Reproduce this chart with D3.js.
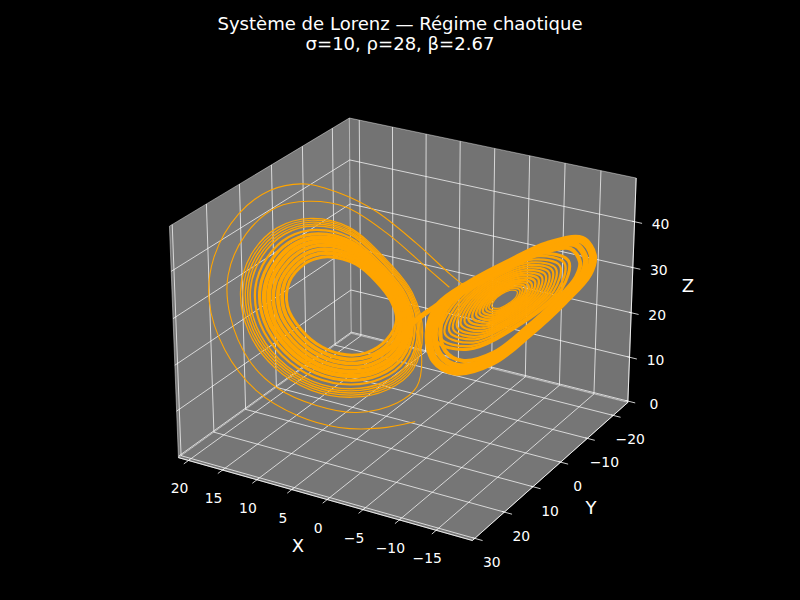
<!DOCTYPE html>
<html><head><meta charset="utf-8">
<script src="https://cdnjs.cloudflare.com/ajax/libs/d3/7.8.5/d3.min.js"></script>
<style>html,body{margin:0;padding:0;background:#000}svg{display:block}</style>
</head><body><svg id="c" width="800" height="600"></svg>
<script>
const titleLines = ["Système de Lorenz — Régime chaotique", "σ=10, ρ=28, β=2.67"];
const xLimits = [-19.85, 21.5], yLimits = [-25.8, 30.8], zLimits = [-0.3, 49.4];
const xTicks = [20, 15, 10, 5, 0, -5, -10, -15];
const yTicks = [-20, -10, 0, 10, 20, 30];
const zTicks = [0, 10, 20, 30, 40];

// Open outer strands
const strand1X = [-1.7,1.05,4.5,8.3,12.5,16.3,19,20,19.3,17.5,14.8,11.5,8.05,3.7,-0.1,-1.7];
const strand1Y = [6,11.3,16.8,21.4,25.1,26.4,25.1,21.3,15,9.1,3.9,-0.4,-3.9,-7.2,-9.6,-10.8];
const strand1Z = [4.3,4.5,6.1,9.5,15.2,23.2,31.9,39.2,45.9,49,49.1,46.3,42.2,35.4,29,26.4];
const strand2X = [1.6,-0.3,-0.8,0.4,3.5,7.15,10.9,14,16.9,18.3,18.1,16.4,14,10.7,6.5,2.1,-0.5];
const strand2Y = [-1.1,0.35,3.2,7.1,13.3,18.3,22.2,24,23.3,20.7,15.5,9.4,4.7,0,-3.8,-6.8,-8.6];
const strand2Z = [22.1,15.3,10.3,8.2,8,10.7,15,20.7,28.8,35.8,42.2,45.9,46,43.9,38.1,30.9,26.6];
const bridgeX = [3.7,2.4,1.4,-0.2,-1.7];
const bridgeY = [6.9,3.2,-1.2,-6.05,-10.8];
const bridgeZ = [16.8,18.4,21.7,24.1,26.4];

// Closed loops of the X>0 wing
const leftLoopWeights = [3,3.8,3.8,3.6,4.5,4.5,3.2,2.2,1.6,1.4,1.4,1.2,1.3];
const leftX = [
[10.63,8.1,5.87,3.97,2.97,3.2,4.5,6.15,8.44,10.68,12.51,13.09,12.37,11.59],
[10.89,8.28,5.85,3.82,2.71,2.89,4.21,5.97,8.39,10.79,12.75,13.46,12.84,12.01],
[11.16,8.45,5.84,3.67,2.45,2.57,3.93,5.79,8.34,10.89,12.98,13.83,13.31,12.42],
[11.42,8.63,5.82,3.52,2.18,2.26,3.64,5.6,8.3,11,13.22,14.2,13.77,12.84],
[11.68,8.8,5.8,3.37,1.92,1.94,3.36,5.42,8.25,11.11,13.45,14.57,14.24,13.26],
[11.95,8.98,5.79,3.22,1.66,1.63,3.07,5.24,8.2,11.22,13.69,14.94,14.71,13.68],
[12.21,9.15,5.77,3.06,1.4,1.31,2.78,5.06,8.15,11.32,13.92,15.31,15.18,14.09],
[12.47,9.33,5.75,2.91,1.14,1,2.5,4.88,8.1,11.43,14.16,15.68,15.65,14.51],
[12.73,9.5,5.73,2.76,0.87,0.68,2.21,4.69,8.06,11.54,14.39,16.05,16.11,14.93],
[12.87,9.59,5.73,2.69,0.74,0.52,2.07,4.6,8.03,11.59,14.51,16.24,16.35,15.13],
[13,9.68,5.72,2.61,0.61,0.37,1.93,4.51,8.01,11.64,14.63,16.42,16.58,15.34],
[13.13,9.76,5.71,2.54,0.48,0.21,1.78,4.42,7.98,11.7,14.74,16.61,16.82,15.55],
[13.26,9.85,5.7,2.46,0.35,0.05,1.64,4.33,7.96,11.75,14.86,16.79,17.05,15.76]];
const leftY = [
[5.94,2.7,1.16,0.52,1.12,3.97,7.66,10.59,13.33,14.86,15.01,13,9.63,7.73],
[5.9,2.53,0.86,0.17,0.86,3.83,7.65,10.81,13.78,15.49,15.71,13.72,10.29,8.04],
[5.86,2.36,0.56,-0.19,0.59,3.68,7.64,11.03,14.23,16.11,16.41,14.45,10.95,8.35],
[5.82,2.19,0.27,-0.54,0.33,3.54,7.63,11.25,14.67,16.74,17.11,15.17,11.61,8.66],
[5.78,2.02,-0.03,-0.9,0.06,3.4,7.62,11.47,15.12,17.37,17.81,15.89,12.27,8.97],
[5.74,1.85,-0.33,-1.25,-0.2,3.26,7.62,11.69,15.57,18,18.51,16.62,12.93,9.28],
[5.7,1.67,-0.63,-1.6,-0.47,3.11,7.61,11.91,16.02,18.62,19.2,17.34,13.59,9.58],
[5.66,1.5,-0.93,-1.96,-0.74,2.97,7.6,12.13,16.47,19.25,19.9,18.06,14.25,9.89],
[5.62,1.33,-1.22,-2.31,-1,2.83,7.59,12.35,16.91,19.88,20.6,18.78,14.91,10.2],
[5.6,1.25,-1.37,-2.49,-1.13,2.75,7.58,12.46,17.14,20.19,20.95,19.15,15.24,10.36],
[5.58,1.16,-1.52,-2.67,-1.27,2.68,7.58,12.57,17.36,20.5,21.3,19.51,15.57,10.51],
[5.56,1.08,-1.67,-2.84,-1.4,2.61,7.57,12.68,17.59,20.82,21.65,19.87,15.9,10.67],
[5.54,0.99,-1.82,-3.02,-1.53,2.54,7.57,12.79,17.81,21.13,22,20.23,16.23,10.82]];
const leftZ = [
[35.77,33.61,29.97,25.98,22.66,19.52,17.95,18.3,20.51,24.17,28.62,32.74,35.34,35.85],
[36.49,34.28,30.32,26.06,22.34,18.91,17.24,17.55,19.8,23.62,28.3,32.73,35.66,36.5],
[37.21,34.95,30.67,26.15,22.03,18.3,16.52,16.8,19.09,23.06,27.98,32.72,35.98,37.15],
[37.93,35.61,31.01,26.23,21.71,17.68,15.81,16.05,18.37,22.51,27.65,32.7,36.3,37.8],
[38.65,36.28,31.36,26.31,21.4,17.07,15.1,15.3,17.66,21.96,27.33,32.69,36.62,38.45],
[39.37,36.95,31.71,26.4,21.08,16.46,14.39,14.55,16.95,21.4,27.01,32.68,36.94,39.1],
[40.09,37.62,32.06,26.48,20.76,15.85,13.67,13.79,16.24,20.85,26.69,32.67,37.26,39.76],
[40.81,38.29,32.41,26.56,20.45,15.24,12.96,13.04,15.53,20.3,26.37,32.66,37.58,40.41],
[41.53,38.95,32.75,26.64,20.13,14.62,12.25,12.29,14.81,19.75,26.04,32.64,37.9,41.06],
[41.89,39.29,32.93,26.69,19.97,14.32,11.89,11.92,14.46,19.47,25.88,32.64,38.06,41.38],
[42.25,39.62,33.1,26.73,19.82,14.01,11.53,11.54,14.1,19.19,25.72,32.63,38.22,41.71],
[42.61,39.96,33.28,26.77,19.66,13.71,11.18,11.17,13.75,18.92,25.56,32.63,38.38,42.03],
[42.97,40.29,33.45,26.81,19.5,13.4,10.82,10.79,13.39,18.64,25.4,32.62,38.54,42.36]];

// Closed loops of the X<0 wing: outer dense band
const bandWeights = [8,6,4];
const bandX = [
[-16.8,-16.7,-14,-10.7,-7.1,-3.6,-1.5,-0.4,-1.2,-4.4,-8.5,-12.6,-15.7],
[-16.1,-16,-13.6,-10.5,-7.2,-4,-2.1,-1,-1.8,-4.7,-8.5,-12.3,-15.1],
[-15.6,-15.5,-13.2,-10.4,-7.3,-4.3,-2.6,-1.6,-2.3,-5,-8.5,-12,-14.6]];
const bandY = [
[-18.6,-14.4,-9,-4.7,-0.7,2.35,0.8,-4,-9.2,-14.9,-17.6,-19.6,-20.2],
[-17.8,-13.9,-9,-5,-1.3,1.5,0.1,-4.4,-9.1,-14.4,-16.9,-18.7,-19.3],
[-17.1,-13.5,-8.9,-5.3,-1.9,0.7,-0.6,-4.7,-9.1,-13.9,-16.2,-17.9,-18.5]];
const bandZ = [
[34.8,40,40.3,37.5,33.8,28.8,21.3,12.5,7.7,8.4,15,22.8,29.8],
[34.2,39,39.2,36.7,33.3,28.7,21.8,13.7,9.2,9.9,16,23.1,29.6],
[33.6,38.1,38.3,35.9,32.8,28.5,22.2,14.7,10.6,11.2,16.8,23.4,29.4]];

// Closed loops of the X<0 wing: inner rings
const rightLoopWeights = [3,2.4,2.2,2.2,2.2,2.2,2.2,2.2,2.4,2.4,2.4,2.4,2.4,2.2,1.8,1.3];
const rightX = [
[-14.8,-12.95,-8.5,-4.05,-1.57,-3.38,-8.5,-12.95],
[-14.4,-12.67,-8.5,-4.33,-2.01,-3.7,-8.5,-12.67],
[-13.95,-12.35,-8.5,-4.65,-2.5,-4.07,-8.5,-12.35],
[-13.55,-12.07,-8.5,-4.93,-2.95,-4.39,-8.5,-12.07],
[-13.2,-11.82,-8.5,-5.18,-3.33,-4.68,-8.5,-11.82],
[-12.85,-11.58,-8.5,-5.42,-3.72,-4.96,-8.5,-11.58],
[-12.5,-11.33,-8.5,-5.67,-4.1,-5.25,-8.5,-11.33],
[-12.15,-11.08,-8.5,-5.92,-4.49,-5.53,-8.5,-11.08],
[-11.8,-10.83,-8.5,-6.17,-4.87,-5.82,-8.5,-10.83],
[-11.45,-10.59,-8.5,-6.41,-5.26,-6.1,-8.5,-10.59],
[-11.1,-10.34,-8.5,-6.66,-5.64,-6.39,-8.5,-10.34],
[-10.8,-10.13,-8.5,-6.87,-5.97,-6.63,-8.5,-10.13],
[-10.5,-9.91,-8.5,-7.09,-6.3,-6.87,-8.5,-9.91],
[-10.2,-9.7,-8.5,-7.3,-6.63,-7.12,-8.5,-9.7],
[-9.95,-9.53,-8.5,-7.47,-6.9,-7.32,-8.5,-9.53],
[-9.7,-9.35,-8.5,-7.65,-7.18,-7.52,-8.5,-9.35]];
const rightY = [
[-14.86,-8.5,-2.07,0.53,-1.5,-8.5,-14.93,-17.53],
[-14.46,-8.5,-2.48,-0.04,-1.95,-8.5,-14.52,-16.96],
[-14,-8.5,-2.94,-0.68,-2.45,-8.5,-14.06,-16.3],
[-13.6,-8.5,-3.35,-1.26,-2.9,-8.5,-13.65,-15.74],
[-13.25,-8.5,-3.7,-1.76,-3.28,-8.5,-13.3,-15.24],
[-12.9,-8.5,-4.06,-2.26,-3.67,-8.5,-12.94,-14.74],
[-12.54,-8.5,-4.42,-2.76,-4.06,-8.5,-12.58,-14.24],
[-12.19,-8.5,-4.78,-3.27,-4.45,-8.5,-12.22,-13.73],
[-11.83,-8.5,-5.13,-3.77,-4.84,-8.5,-11.87,-13.23],
[-11.48,-8.5,-5.49,-4.27,-5.23,-8.5,-11.51,-12.73],
[-11.13,-8.5,-5.85,-4.77,-5.61,-8.5,-11.15,-12.23],
[-10.82,-8.5,-6.15,-5.2,-5.95,-8.5,-10.85,-11.8],
[-10.52,-8.5,-6.46,-5.63,-6.28,-8.5,-10.54,-11.37],
[-10.22,-8.5,-6.77,-6.06,-6.6,-8.5,-10.23,-10.94],
[-9.96,-8.5,-7.02,-6.42,-6.89,-8.5,-9.98,-10.58],
[-9.71,-8.5,-7.28,-6.78,-7.17,-8.5,-9.72,-10.22]];
const rightZ = [
[34.6,38.4,35.44,27.57,18.6,13.9,18.56,26.43],
[34.14,37.68,34.9,27.53,19.15,14.73,19.1,26.47],
[33.6,36.86,34.3,27.5,19.75,15.66,19.7,26.5],
[33.1,36.14,33.77,27.45,20.28,16.5,20.23,26.55],
[32.7,35.5,33.3,27.4,20.75,17.2,20.7,26.6],
[32.26,34.87,32.83,27.4,21.2,17.95,21.17,26.6],
[31.84,34.24,32.36,27.36,21.68,18.68,21.64,26.64],
[31.42,33.6,31.9,27.33,22.15,19.4,22.1,26.67],
[31,33,31.4,27.3,22.6,20.14,22.58,26.7],
[30.57,32.34,30.95,27.27,23.08,20.86,23.05,26.73],
[30.15,31.7,30.48,27.23,23.54,21.6,23.52,26.77],
[29.8,31.16,30.08,27.2,23.94,22.2,23.92,26.8],
[29.42,30.62,29.68,27.18,24.34,22.84,24.32,26.82],
[29.06,30.08,29.28,27.15,24.74,23.46,24.72,26.85],
[28.75,29.62,28.94,27.13,25.07,23.98,25.06,26.87],
[28.45,29.17,28.61,27.11,25.4,24.5,25.39,26.89]];

// ---- mplot3d-style projection, elev 25, azim 120, box aspect 4:4:3 ----
const HX = 0.5952, HZ = 0.4464, DIST = 10;
const el = 25 * Math.PI / 180, az = 120 * Math.PI / 180;
const W = [Math.cos(el)*Math.cos(az), Math.cos(el)*Math.sin(az), Math.sin(el)];
const U = [-Math.sin(az), Math.cos(az), 0];
const V = [W[1]*U[2]-W[2]*U[1], W[2]*U[0]-W[0]*U[2], W[0]*U[1]-W[1]*U[0]];
const sX = d3.scaleLinear().domain(xLimits).range([-HX, HX]);
const sY = d3.scaleLinear().domain(yLimits).range([-HX, HX]);
const sZ = d3.scaleLinear().domain(zLimits).range([-HZ, HZ]);
const screenX = d3.scaleLinear().domain([-0.1, 0.1]).range([407.5-281.5, 407.5+281.5]);
const screenY = d3.scaleLinear().domain([-0.1, 0.1]).range([317.7+281.5, 317.7-281.5]);
const dot = (a,b) => a[0]*b[0]+a[1]*b[1]+a[2]*b[2];
function proj(x,y,z){
  const p = [sX(x), sY(y), sZ(z)];
  const d = DIST - dot(W,p);
  return [screenX(dot(U,p)/d), screenY(dot(V,p)/d)];
}

const svg = d3.select("#c");
svg.append("rect").attr("width",800).attr("height",600).attr("fill","#000");
const [x0,x1] = xLimits, [y0,y1] = yLimits, [z0,z1] = zLimits;
const panes = [
  {c:[[x1,y0,z0],[x1,y1,z0],[x1,y1,z1],[x1,y0,z1]], f:"rgb(121,121,121)"},
  {c:[[x0,y0,z0],[x1,y0,z0],[x1,y0,z1],[x0,y0,z1]], f:"rgb(115,115,115)"},
  {c:[[x0,y0,z0],[x1,y0,z0],[x1,y1,z0],[x0,y1,z0]], f:"rgb(118,118,118)"}];
svg.append("g").selectAll("polygon").data(panes).join("polygon")
  .attr("points", d => d.c.map(p => proj(...p).join(",")).join(" "))
  .attr("fill", d => d.f).attr("stroke","rgba(255,255,255,0.55)").attr("stroke-width",0.8);

const seg = d3.line();
const gridG = svg.append("g").attr("fill","none").attr("stroke","#fff").attr("stroke-width",0.8).attr("stroke-opacity",0.9);
const grid = [];
xTicks.forEach(t => grid.push([[t,y1,z0],[t,y0,z0],[t,y0,z1]]));
yTicks.forEach(t => grid.push([[x0,t,z0],[x1,t,z0],[x1,t,z1]]));
zTicks.forEach(t => grid.push([[x0,y0,t],[x1,y0,t],[x1,y1,t]]));
gridG.selectAll("path").data(grid).join("path").attr("d", d => seg(d.map(p => proj(...p))));

// axis edges
const edges = [[[x1,y1,z0],[x0,y1,z0]], [[x0,y1,z0],[x0,y0,z0]], [[x0,y0,z0],[x0,y0,z1]]];
svg.append("g").attr("fill","none").attr("stroke","#fff").attr("stroke-width",0.8)
  .selectAll("path").data(edges).join("path").attr("d", d => seg(d.map(p => proj(...p))));

// ticks
const tl = 0.025;
const dy = (y1-y0)*tl, dx = (x1-x0)*tl;
const tk = [];
xTicks.forEach(t => tk.push([[t,y1-dy*0.3,z0],[t,y1+dy,z0]]));
yTicks.forEach(t => tk.push([[x0+dx*0.3,t,z0],[x0-dx,t,z0]]));
zTicks.forEach(t => tk.push([[x0+dx*0.3,y0,t],[x0-dx,y0,t]]));
svg.append("g").attr("fill","none").attr("stroke","#fff").attr("stroke-width",0.8)
  .selectAll("path").data(tk).join("path").attr("d", d => seg(d.map(p => proj(...p))));

// trajectory
const orange = "#FFA500";
const openLine = d3.line().curve(d3.curveCatmullRom.alpha(0.5));
const closedLine = d3.line().curve(d3.curveCatmullRomClosed.alpha(0.5));
const curveG = svg.append("g").attr("fill","none").attr("stroke",orange).attr("stroke-linejoin","round").attr("stroke-linecap","round");
function loops(xs,ys,zs,ws){
  xs.forEach((row,i) => {
    const pts = row.map((v,j) => proj(v, ys[i][j], zs[i][j]));
    curveG.append("path").attr("d", closedLine(pts)).attr("stroke-width", ws[i]);
  });
}
function open(xs,ys,zs,w){
  const pts = xs.map((v,j) => proj(v, ys[j], zs[j]));
  curveG.append("path").attr("d", openLine(pts)).attr("stroke-width", w);
}
loops(leftX,leftY,leftZ,leftLoopWeights);
loops(rightX,rightY,rightZ,rightLoopWeights);
loops(bandX,bandY,bandZ,bandWeights);
open(strand1X,strand1Y,strand1Z,1.1);
open(strand2X,strand2Y,strand2Z,1.1);
open(bridgeX,bridgeY,bridgeZ,5);

// tick labels
const font = "'DejaVu Sans', sans-serif";
const fmt = t => (t < 0 ? "\u2212" + (-t) : "" + t);
function tickText(list, fn, ox, oy){
  svg.append("g").attr("fill","#fff").attr("font-family",font).attr("font-size",13.9)
    .attr("text-anchor","middle").attr("dominant-baseline","central")
    .selectAll("text").data(list).join("text")
    .attr("x", t => fn(t)[0] + ox).attr("y", t => fn(t)[1] + oy).text(fmt);
}
tickText(xTicks, t => proj(t,y1,z0), -9, 28);
tickText(yTicks, t => proj(x0,t,z0), 17, 24);
tickText(zTicks, t => proj(x0,y0,t), 26, 2.5);

// axis titles
const axisTitles = [["X",298,545],["Y",591,507],["Z",688,285]];
svg.append("g").attr("fill","#fff").attr("font-family",font).attr("font-size",18)
  .attr("text-anchor","middle").attr("dominant-baseline","central")
  .selectAll("text").data(axisTitles).join("text")
  .attr("x", d => d[1]).attr("y", d => d[2]).text(d => d[0]);

// title
svg.append("g").attr("fill","#fff").attr("font-family",font).attr("font-size",18.06)
  .attr("text-anchor","middle")
  .selectAll("text").data(titleLines).join("text")
  .attr("x",400).attr("y",(d,i)=>30+i*20.2).text(d=>d);
</script></body></html>
